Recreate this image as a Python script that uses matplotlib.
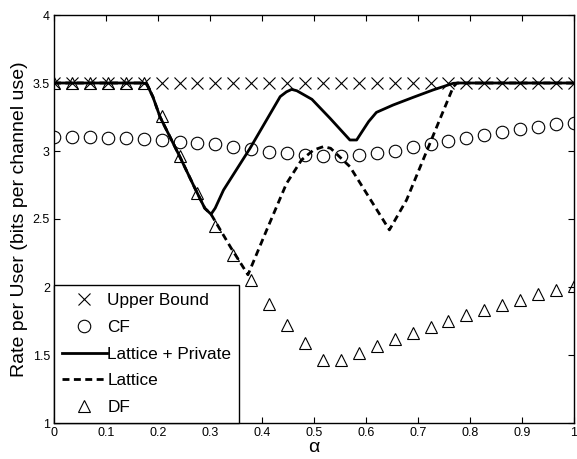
import matplotlib
matplotlib.use('Agg')
import matplotlib.pyplot as plt
import numpy as np

plt.rcParams['font.family'] = ['Liberation Sans', 'DejaVu Sans']

# marker series, 30 points on alpha in [0, 1]
alpha = np.linspace(0, 1, 30)
upper = [3.5] * 30
cf = [3.10, 3.10, 3.10, 3.098, 3.096, 3.086, 3.081, 3.068, 3.061, 3.049,
      3.032, 3.013, 2.995, 2.983, 2.971, 2.961, 2.961, 2.971, 2.983, 3.002,
      3.027, 3.051, 3.074, 3.098, 3.12, 3.14, 3.16, 3.179, 3.196, 3.208]
df = [3.5, 3.5, 3.5, 3.5, 3.5, 3.5, 3.257, 2.96, 2.689, 2.45,
      2.235, 2.051, 1.878, 1.72, 1.586, 1.463, 1.463, 1.517, 1.566, 1.62,
      1.664, 1.708, 1.752, 1.792, 1.831, 1.868, 1.904, 1.946, 1.978, 2.007]

# line series
lp_x = [0, 0.17, 0.178, 0.19, 0.204, 0.242, 0.271, 0.29, 0.302, 0.31, 0.326,
        0.377, 0.435, 0.447, 0.457, 0.467, 0.496, 0.531, 0.569, 0.582, 0.592,
        0.605, 0.62, 0.652, 0.691, 0.729, 0.768, 0.78, 1.0]
lp_y = [3.5, 3.5, 3.495, 3.40, 3.25, 2.958, 2.726, 2.579, 2.535, 2.58, 2.713,
        3.02, 3.40, 3.435, 3.453, 3.443, 3.38, 3.24, 3.081, 3.081, 3.14,
        3.216, 3.284, 3.338, 3.395, 3.449, 3.498, 3.5, 3.5]
lat_x = [0, 0.17, 0.178, 0.19, 0.204, 0.242, 0.271, 0.29, 0.302, 0.34, 0.373,
         0.409, 0.447, 0.476, 0.499, 0.518, 0.532, 0.569, 0.601, 0.645, 0.678,
         0.723, 0.768, 0.775, 1.0]
lat_y = [3.5, 3.5, 3.495, 3.40, 3.25, 2.958, 2.726, 2.579, 2.535, 2.29, 2.09,
         2.419, 2.76, 2.934, 3.007, 3.032, 3.02, 2.885, 2.689, 2.42, 2.64,
         3.057, 3.473, 3.5, 3.5]

fig = plt.figure(figsize=(5.77, 4.59), dpi=100)
ax = fig.add_axes([54/577, 1 - 423/459, 520/577, 408/459])

ax.plot(alpha, upper, 'x', color='k', ms=8, mew=0.8, label='Upper Bound')
ax.plot(alpha, cf, 'o', color='k', mfc='none', ms=9, mew=0.8, label='CF')
ax.plot(lp_x, lp_y, '-', color='k', lw=2, label='Lattice + Private')
ax.plot(lat_x, lat_y, '--', color='k', lw=2, dashes=(2.5, 1.6), label='Lattice')
ax.plot(alpha, df, '^', color='k', mfc='none', ms=9, mew=0.8, label='DF')

ax.set_xlim(0, 1)
ax.set_ylim(1, 4)
ax.set_xticks(np.arange(0, 1.01, 0.1))
ax.set_xticklabels(['0', '0.1', '0.2', '0.3', '0.4', '0.5', '0.6', '0.7', '0.8', '0.9', '1'])
ax.set_yticks(np.arange(1, 4.01, 0.5))
ax.set_yticklabels(['1', '1.5', '2', '2.5', '3', '3.5', '4'])
ax.tick_params(direction='in', top=True, right=True, length=4, width=0.8,
               labelsize=9, pad=3)
for s in ax.spines.values():
    s.set_linewidth(1)

ax.set_xlabel('α', fontsize=14, labelpad=0)
ax.set_ylabel('Rate per User (bits per channel use)', fontsize=14, labelpad=3)

leg = ax.legend(loc='lower left', borderaxespad=0, fontsize=12.4,
                handlelength=2.6, labelspacing=0.68, handletextpad=0.05,
                borderpad=0.45, fancybox=False, edgecolor='k', framealpha=1)
leg.get_frame().set_linewidth(1)

fig.savefig('out.png', dpi=100)
